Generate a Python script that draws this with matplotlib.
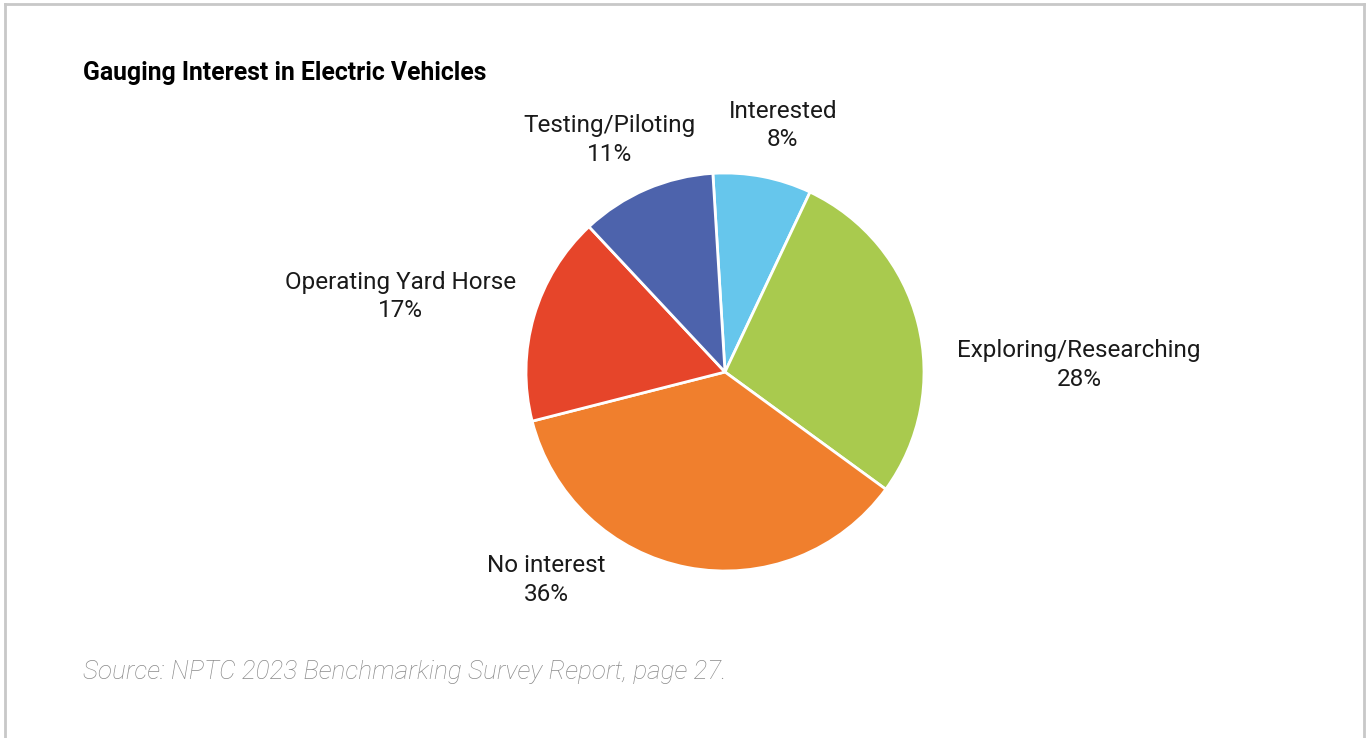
import numpy as np
import matplotlib
matplotlib.use('Agg')
import matplotlib.pyplot as plt

# data, clockwise from the top
labels = ['Interested', 'Exploring/Researching', 'No interest', 'Operating Yard Horse', 'Testing/Piloting']
shares = [8, 28, 36, 17, 11]
colors = ['#66C6EC', '#A9CA4E', '#F07F2D', '#E6452A', '#4D63AC']

# label spots around the pie (axes data units, pie radius = 1)
label_pos = [(0.29, 1.24), (1.78, 0.035), (-0.90, -1.045), (-1.63, 0.38), (-0.58, 1.166)]

plt.rcParams['font.family'] = ['Roboto', 'DejaVu Sans']

W, H = 1366, 738
fig = plt.figure(figsize=(W / 100, H / 100), dpi=100)
fig.patch.set_facecolor('white')

# light frame, open at the bottom
fc = '#C8C8C8'
fig.add_artist(plt.Line2D([5 / W, 5 / W], [0, 1 - 4 / H], transform=fig.transFigure, color=fc, lw=2))
fig.add_artist(plt.Line2D([1364 / W, 1364 / W], [0, 1 - 4 / H], transform=fig.transFigure, color=fc, lw=2))
fig.add_artist(plt.Line2D([5 / W, 1364 / W], [1 - 4 / H, 1 - 4 / H], transform=fig.transFigure, color=fc, lw=2))

cx, cy, r = 725, 372, 199
ax = fig.add_axes([(cx - r) / W, 1 - (cy + r) / H, 2 * r / W, 2 * r / H])
ax.pie(shares, colors=colors, startangle=93.5, counterclock=False, radius=1,
       wedgeprops=dict(edgecolor='white', linewidth=2))
ax.set_xlim(-1, 1)
ax.set_ylim(-1, 1)
ax.set_aspect('equal')
ax.axis('off')

for name, val, (x, y) in zip(labels, shares, label_pos):
    ax.text(x, y, f'{name}\n{val}%', ha='center', va='center', fontsize=17.5,
            linespacing=1.3, color='#1a1a1a', clip_on=False)

fig.text(83 / W, 1 - 73 / H, 'Gauging Interest in Electric Vehicles', fontsize=17.8,
         fontweight='bold', ha='left', va='center', color='black')
fig.text(83 / W, 1 - 672 / H, 'Source: NPTC 2023 Benchmarking Survey Report, page 27.',
         fontsize=18.8, style='italic', fontweight='light', ha='left', va='center', color='#8a8a8a')

fig.savefig('out.png', dpi=100)
